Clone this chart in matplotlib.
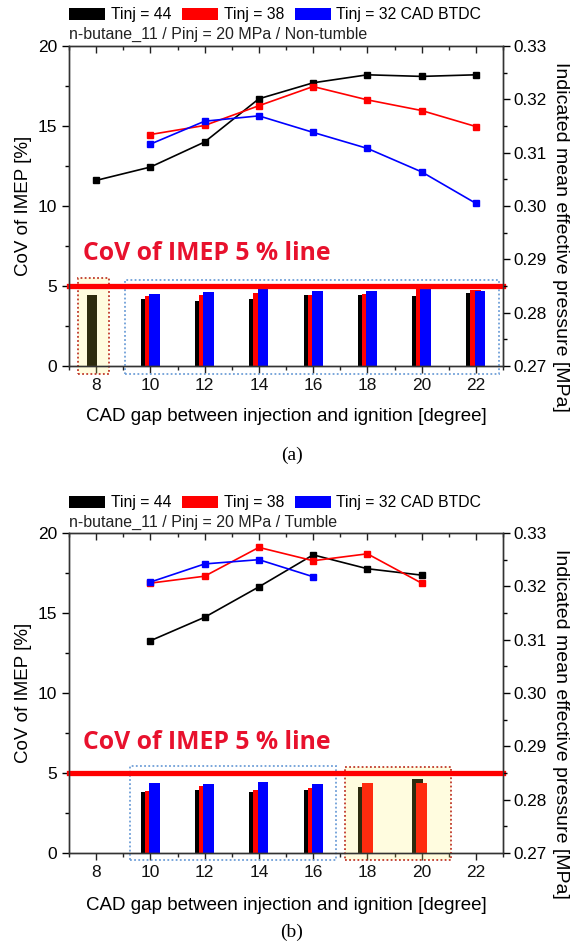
import matplotlib
matplotlib.use("Agg")
import matplotlib.pyplot as plt
from matplotlib.patches import Rectangle, Patch
from matplotlib.ticker import MultipleLocator, FormatStrFormatter
import numpy as np

# ---- data -------------------------------------------------------------
gap = [8, 10, 12, 14, 16, 18, 20, 22]
series_labels = ["Tinj = 44", "Tinj = 38", "Tinj = 32 CAD BTDC"]

# (a) Non-tumble : CoV of IMEP [%] (bars) and IMEP [MPa] (lines)
cov_a_44 = [4.42, 4.21, 4.08, 4.21, 4.44, 4.44, 4.38, 4.58]
cov_a_38 = [None, 4.38, 4.46, 4.54, 4.44, 4.48, 4.97, 4.73]
cov_a_32 = [None, 4.50, 4.60, 4.90, 4.71, 4.71, 4.95, 4.69]
imep_a_44 = [0.3048, 0.3073, 0.3120, 0.3201, 0.3231, 0.3246, 0.3243, 0.3246]
imep_a_38 = [None, 0.3134, 0.3151, 0.3188, 0.3224, 0.3199, 0.3179, 0.3149]
imep_a_32 = [None, 0.3116, 0.3159, 0.3169, 0.3138, 0.3108, 0.3064, 0.3005]

# (b) Tumble
cov_b_44 = [None, 3.79, 3.96, 3.81, 3.92, 4.13, 4.63, None]
cov_b_38 = [None, 3.85, 4.17, 3.92, 4.06, 4.38, 4.38, None]
cov_b_32 = [None, 4.38, 4.29, 4.44, 4.29, None, None, None]
imep_b_44 = [None, 0.3098, 0.3142, 0.3199, 0.3259, 0.3233, 0.3221, None]
imep_b_38 = [None, 0.3206, 0.3219, 0.3273, 0.3248, 0.3261, 0.3206, None]
imep_b_32 = [None, 0.3208, 0.3242, 0.3250, 0.3218, None, None, None]

subtitle_a = "n-butane_11 / Pinj = 20 MPa / Non-tumble"
subtitle_b = "n-butane_11 / Pinj = 20 MPa / Tumble"
limit_text = "CoV of IMEP 5 % line"
xlabel = "CAD gap between injection and ignition [degree]"
ylabel_left = "CoV of IMEP [%]"
ylabel_right = "Indicated mean effective pressure [MPa]"

# highlight boxes: (x0, x1, y0, y1, edge colour, yellow fill?)
boxes_a = [(7.32, 8.48, -0.5, 5.5, "#c0392b", True),
           (9.07, 22.86, -0.5, 5.37, "#6f9fd8", False)]
boxes_b = [(9.25, 16.83, -0.45, 5.44, "#6f9fd8", False),
           (17.18, 21.10, -0.45, 5.40, "#c0392b", True)]

colors = ["#000000", "#ff0000", "#0000ff"]
offsets = [-0.15, 0.0, 0.15]

plt.rcParams["font.family"] = ["Liberation Sans", "DejaVu Sans"]

fig = plt.figure(figsize=(5.72, 9.43), dpi=100)
H = 943.0
W = 572.0


def clean(xs, ys):
    pts = [(x, y) for x, y in zip(xs, ys) if y is not None]
    return [p[0] for p in pts], [p[1] for p in pts]


def panel(rect, covs, imeps, boxes, subtitle, sub_y, leg_y, text_y, cap, cap_y, xl_y, yr_y):
    ax = fig.add_axes(rect)
    ax2 = ax.twinx()
    ax.set_zorder(ax2.get_zorder() - 1)
    ax.patch.set_visible(False)
    ax2.patch.set_visible(False)

    handles = []
    for cov, c, off, lab in zip(covs, colors, offsets, series_labels):
        xs, ys = clean(gap, cov)
        ax.bar(np.array(xs) + off, ys, width=0.4, color=c, zorder=2)
        handles.append(Patch(facecolor=c, label=lab))

    for x0, x1, y0, y1, ec, fill in boxes:
        if fill:
            ax.add_patch(Rectangle((x0, y0), x1 - x0, y1 - y0, facecolor=(1.0, 0.94, 0.32),
                                   alpha=0.18, edgecolor="none", zorder=3, clip_on=False))
        ax.add_patch(Rectangle((x0, y0), x1 - x0, y1 - y0, facecolor="none", edgecolor=ec,
                               linestyle=(0, (1, 1.3)), linewidth=1.3, zorder=4, clip_on=False))

    ax.axhline(5, color="#ff0000", linewidth=3.8, zorder=5, clip_on=False)
    ax.text(7.52, text_y, limit_text, color="#e8112d", fontsize=17.8, fontweight="bold",
            family=["Open Sans", "DejaVu Sans"], va="center", ha="left", zorder=6)

    for imep, c in zip(imeps, colors):
        xs, ys = clean(gap, imep)
        ax2.plot(xs, ys, color=c, linewidth=1.2, marker="s", markersize=4.2, zorder=3)

    ax.set_xlim(7, 23)
    ax.set_ylim(0, 20)
    ax2.set_ylim(0.27, 0.33)
    ax.xaxis.set_major_locator(MultipleLocator(2))
    ax.xaxis.set_minor_locator(MultipleLocator(1))
    ax.yaxis.set_major_locator(MultipleLocator(5))
    ax.yaxis.set_minor_locator(MultipleLocator(2.5))
    ax2.yaxis.set_major_locator(MultipleLocator(0.01))
    ax2.yaxis.set_minor_locator(MultipleLocator(0.005))
    ax2.yaxis.set_major_formatter(FormatStrFormatter("%.2f"))
    ax.set_xticks(gap)

    ax.tick_params(axis="x", which="both", direction="out", top=True, labelsize=12.5,
                   colors="#222222", labelcolor="#111111")
    ax.tick_params(axis="x", which="major", length=5, width=1)
    ax.tick_params(axis="x", which="minor", length=3, width=1)
    ax.tick_params(axis="y", which="major", direction="out", length=5, width=1, labelsize=12.5)
    ax.tick_params(axis="y", which="minor", direction="out", length=3, width=1)
    ax2.tick_params(axis="y", which="major", direction="out", length=5, width=1, labelsize=12.3,
                    pad=2.5)
    ax2.tick_params(axis="y", which="minor", direction="out", length=3, width=1)
    # top ticks point into the plot
    for t in ax.xaxis.get_major_ticks() + ax.xaxis.get_minor_ticks():
        t.tick2line.set_marker(3)
    for a in (ax, ax2):
        for s in a.spines.values():
            s.set_color("#333333")
            s.set_linewidth(1.0)

    ax.set_ylabel(ylabel_left, fontsize=13.5, labelpad=4)
    fig.text(561 / W, 1 - yr_y / H, ylabel_right, fontsize=14, rotation=270,
             ha="center", va="center")

    l, b, w, h = rect
    fig.text(l, 1 - sub_y / H, subtitle, fontsize=11.5, va="center", ha="left", color="#222222")
    fig.legend(handles=handles, loc="center left", bbox_to_anchor=(l, 1 - leg_y / H),
               ncol=3, frameon=False, fontsize=11.3, handlelength=2.3, handleheight=0.85,
               handletextpad=0.35, columnspacing=0.7, borderpad=0, borderaxespad=0)
    fig.text(l + w / 2, 1 - xl_y / H, xlabel, fontsize=13.5, ha="center", va="center")
    fig.text(0.51, 1 - cap_y / H, cap, fontsize=14, ha="center", va="center",
             family=["Liberation Serif", "DejaVu Serif"])
    return ax, ax2


left = 69 / W
width = (503 - 69) / W
height = 320 / H

panel([left, (H - 366) / H, width, height],
      [cov_a_44, cov_a_38, cov_a_32], [imep_a_44, imep_a_38, imep_a_32],
      boxes_a, subtitle_a, 34, 15, 7.0, "(a)", 455, 416, 237)
panel([left, (H - 853) / H, width, height],
      [cov_b_44, cov_b_38, cov_b_32], [imep_b_44, imep_b_38, imep_b_32],
      boxes_b, subtitle_b, 522, 503, 6.9, "(b)", 932, 905, 724)

fig.savefig("out.png", dpi=100)
